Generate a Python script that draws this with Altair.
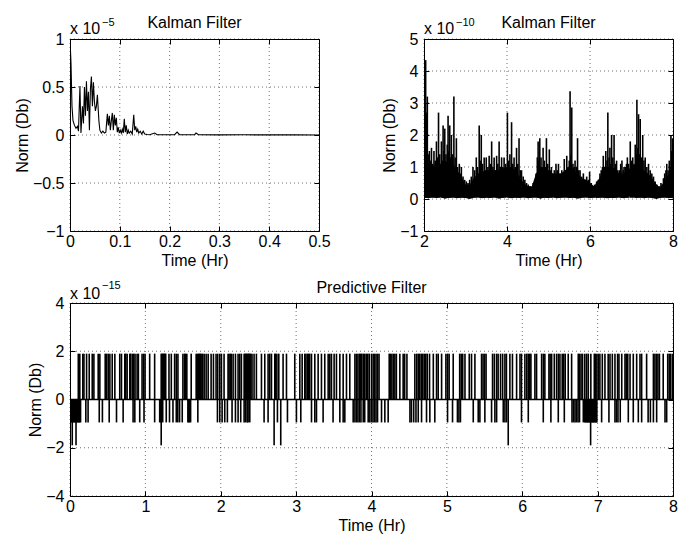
import altair as alt
import pandas as pd

FONT = "Liberation Sans"

# ---------------- data ----------------
# Kalman filter, first half hour (units of 1e-5)
kf1_t = [0.000, 0.002, 0.004, 0.006, 0.009, 0.012, 0.015, 0.017, 0.020, 0.022,
         0.025, 0.027, 0.029, 0.031, 0.033, 0.035, 0.037, 0.039, 0.041, 0.043,
         0.045, 0.047, 0.049, 0.051, 0.053, 0.055, 0.058, 0.060, 0.063, 0.066,
         0.069, 0.072, 0.075, 0.077, 0.079, 0.081, 0.083, 0.085, 0.087, 0.089,
         0.091, 0.093, 0.095, 0.097, 0.099, 0.101, 0.103, 0.105, 0.107, 0.109,
         0.111, 0.113, 0.115, 0.117, 0.119, 0.122, 0.125, 0.128, 0.130, 0.132,
         0.134, 0.136, 0.138, 0.141, 0.144, 0.147, 0.150, 0.155, 0.160, 0.170,
         0.175, 0.190, 0.210, 0.215, 0.220, 0.250, 0.253, 0.258, 0.300, 0.350,
         0.400, 0.450, 0.500]
kf1_v = [1.0, 0.75, 0.3, 0.15, 0.1, 0.07, 0.09, 0.04, 0.51, 0.02,
         0.30, 0.12, 0.50, 0.20, 0.56, 0.25, 0.45, 0.05, 0.48, 0.61,
         0.30, 0.55, 0.35, 0.25, 0.30, 0.42, 0.15, 0.05, 0.02, 0.04,
         0.02, 0.03, 0.22, 0.10, 0.20, 0.05, 0.15, 0.23, 0.05, 0.21,
         0.10, 0.18, 0.03, 0.08, 0.02, 0.05, 0.02, 0.06, 0.02, 0.17,
         0.03, 0.10, 0.01, 0.05, 0.02, 0.04, 0.01, 0.21, 0.05, 0.09,
         0.03, 0.06, 0.02, 0.04, 0.01, 0.04, 0.01, 0.005, 0.003, 0.02,
         0.002, 0.002, 0.003, 0.03, 0.003, 0.002, 0.02, 0.002, 0.001, 0.002,
         0.001, 0.001, 0.0]

# Kalman filter, 2-8 hr (units of 1e-10): spike peaks (time, value)
kf2_spikes = [
    (2.01, 2.8), (2.03, 2.9), (2.04, 4.34), (2.06, 2.7), (2.08, 3.2), (2.10, 1.4),
    (2.13, 1.5), (2.15, 1.2), (2.18, 1.6), (2.21, 1.1), (2.24, 1.5), (2.27, 1.2),
    (2.30, 1.8), (2.33, 1.3), (2.35, 2.7), (2.38, 1.4), (2.42, 1.8), (2.44, 1.2),
    (2.46, 2.3), (2.48, 1.5), (2.50, 2.2), (2.53, 1.4), (2.56, 1.7), (2.58, 2.6),
    (2.60, 1.5), (2.62, 2.3), (2.64, 1.3), (2.66, 2.0), (2.69, 1.4), (2.72, 3.2),
    (2.75, 1.3), (2.78, 1.9), (2.81, 1.0), (2.85, 1.1), (2.88, 0.8), (2.90, 1.0),
    (2.94, 0.7), (2.98, 0.6), (3.02, 0.55), (3.06, 0.5), (3.10, 0.6), (3.14, 0.7),
    (3.18, 1.0), (3.22, 0.9), (3.26, 1.3), (3.29, 1.0), (3.33, 2.3), (3.36, 1.2),
    (3.38, 2.0), (3.41, 1.1), (3.45, 1.3), (3.48, 0.9), (3.50, 1.3), (3.54, 1.0),
    (3.57, 1.35), (3.60, 1.1), (3.63, 1.8), (3.66, 1.0), (3.69, 1.3), (3.72, 0.9),
    (3.75, 1.35), (3.78, 1.1), (3.81, 1.8), (3.84, 1.0), (3.87, 1.3), (3.90, 1.0),
    (3.93, 1.3), (3.97, 1.1), (4.01, 2.7), (4.04, 1.2), (4.07, 1.4), (4.09, 1.0),
    (4.11, 2.4), (4.14, 1.1), (4.17, 1.3), (4.20, 1.0), (4.23, 1.6), (4.26, 1.1),
    (4.29, 1.9), (4.32, 0.9), (4.35, 0.9), (4.39, 0.7), (4.43, 0.6), (4.47, 0.5),
    (4.51, 0.45), (4.55, 0.4), (4.59, 0.35), (4.63, 0.5), (4.67, 0.6), (4.70, 0.8),
    (4.73, 1.3), (4.75, 1.8), (4.77, 1.2), (4.79, 1.9), (4.82, 1.3), (4.85, 1.0),
    (4.87, 1.6), (4.90, 1.2), (4.93, 1.0), (4.95, 1.9), (4.98, 1.1), (5.02, 1.55),
    (5.05, 0.9), (5.07, 1.0), (5.10, 0.8), (5.14, 0.9), (5.18, 1.1), (5.21, 0.9),
    (5.24, 1.1), (5.28, 0.8), (5.32, 0.9), (5.35, 0.8), (5.38, 1.25), (5.41, 0.9),
    (5.44, 1.35), (5.47, 1.0), (5.50, 1.2), (5.52, 3.37), (5.54, 1.4), (5.56, 2.86),
    (5.59, 1.1), (5.62, 1.0), (5.64, 1.2), (5.67, 1.0), (5.70, 1.9), (5.73, 0.9),
    (5.76, 0.9), (5.80, 0.7), (5.84, 0.8), (5.88, 0.6), (5.92, 0.7), (5.96, 0.6),
    (5.99, 0.85), (6.03, 0.5), (6.07, 0.35), (6.11, 0.45), (6.16, 0.55), (6.20, 0.6),
    (6.24, 0.8), (6.27, 0.9), (6.30, 1.0), (6.32, 1.35), (6.35, 1.0), (6.38, 1.5),
    (6.41, 1.2), (6.43, 2.7), (6.46, 1.3), (6.48, 1.6), (6.50, 1.1), (6.52, 2.0),
    (6.55, 1.3), (6.58, 2.0), (6.61, 1.1), (6.64, 1.2), (6.67, 0.9), (6.71, 0.9),
    (6.74, 1.1), (6.77, 1.2), (6.80, 0.9), (6.82, 1.0), (6.85, 1.0), (6.88, 1.1),
    (6.90, 1.3), (6.93, 1.1), (6.97, 1.8), (7.00, 1.2), (7.03, 1.3), (7.06, 1.1),
    (7.09, 1.7), (7.11, 1.4), (7.13, 3.1), (7.15, 1.6), (7.17, 2.65), (7.19, 1.4),
    (7.21, 2.5), (7.24, 1.3), (7.27, 2.0), (7.30, 1.2), (7.33, 1.3), (7.37, 1.0),
    (7.41, 1.1), (7.45, 0.9), (7.49, 0.8), (7.53, 0.7), (7.57, 0.55), (7.61, 0.45),
    (7.65, 0.25), (7.68, 0.4), (7.71, 0.5), (7.74, 0.45), (7.77, 0.65), (7.80, 0.8),
    (7.83, 0.9), (7.85, 1.1), (7.88, 0.9), (7.91, 1.2), (7.93, 1.0), (7.95, 2.0),
    (7.97, 1.5), (7.99, 1.9),
]
# dense oscillation band of the 2-8 hr Kalman trace
band_t = [2.0, 2.1, 2.2, 2.3, 2.4, 2.5, 2.6, 2.7, 2.8, 2.9,
          3.0, 3.1, 3.2, 3.3, 3.4, 3.5, 3.6, 3.7, 3.8, 3.9,
          4.0, 4.1, 4.2, 4.3, 4.4, 4.5, 4.6, 4.7, 4.8, 4.9,
          5.0, 5.1, 5.2, 5.3, 5.4, 5.5, 5.6, 5.7, 5.8, 5.9,
          6.0, 6.1, 6.2, 6.3, 6.4, 6.5, 6.6, 6.7, 6.8, 6.9,
          7.0, 7.1, 7.2, 7.3, 7.4, 7.5, 7.6, 7.7, 7.8, 7.9, 8.0]
band_hi = [1.5, 1.1, 1.0, 1.1, 1.1, 1.2, 1.1, 1.1, 0.9, 0.7,
           0.45, 0.45, 0.65, 0.8, 0.85, 0.9, 0.9, 0.9, 0.9, 0.95,
           1.0, 1.0, 0.9, 0.7, 0.5, 0.4, 0.4, 0.8, 1.0, 1.0,
           0.9, 0.8, 0.8, 0.8, 0.9, 1.0, 0.95, 0.8, 0.65, 0.6,
           0.5, 0.4, 0.6, 0.8, 1.0, 1.0, 0.95, 0.8, 0.8, 0.9,
           1.0, 1.1, 1.1, 0.9, 0.8, 0.65, 0.45, 0.35, 0.6, 0.8, 0.9]
band_lo = [0.05, 0.02, 0.06, 0.03, 0.07, 0.01, 0.04, 0.06, 0.02, 0.05,
           0.03, 0.00, 0.04, 0.06, 0.02, 0.05, 0.03, 0.07, 0.01, 0.04,
           0.06, 0.02, 0.05, 0.03, 0.06, 0.02, 0.04, 0.07, 0.01, 0.05,
           0.03, 0.06, 0.02, 0.04, 0.07, 0.03, 0.05, 0.01, 0.04, 0.06,
           0.02, 0.05, 0.03, 0.06, 0.02, 0.04, 0.03, 0.06, 0.02, 0.05,
           0.12, 0.04, 0.06, 0.02, 0.05, 0.03, 0.00, 0.04, 0.06, 0.03, 0.05]

# Predictive filter (units of 1e-15): times of excursions to each level
pf_up = [0.11, 0.13, 0.17, 0.185, 0.22, 0.255, 0.295, 0.317, 0.374, 0.396, 0.467, 0.485,
         0.507, 0.529, 0.56, 0.595, 0.66, 0.683, 0.727, 0.74, 0.758, 0.793, 0.806, 0.828,
         0.846, 0.863, 0.89, 0.907, 0.956, 0.978, 0.996, 1.057, 1.123, 1.21, 1.22, 1.23,
         1.24, 1.25, 1.26, 1.27, 1.313, 1.344, 1.388, 1.41, 1.432, 1.498, 1.52, 1.533,
         1.55, 1.608, 1.674, 1.687, 1.70, 1.71, 1.72, 1.73, 1.74, 1.76, 1.78, 1.806,
         1.833, 1.872, 1.903, 1.938, 1.96, 1.987, 2.009, 2.044, 2.097, 2.11, 2.125, 2.14,
         2.164, 2.195, 2.23, 2.252, 2.274, 2.31, 2.32, 2.33, 2.34, 2.35, 2.36, 2.37,
         2.38, 2.39, 2.40, 2.415, 2.442, 2.473, 2.54, 2.584, 2.628, 2.65, 2.673, 2.717,
         2.73, 2.745, 2.77, 2.827, 2.872, 2.982, 3.049, 3.08, 3.115, 3.13, 3.15, 3.165,
         3.18, 3.204, 3.248, 3.292, 3.336, 3.38, 3.425, 3.447, 3.469, 3.504, 3.535, 3.58,
         3.624, 3.668, 3.712, 3.78, 3.80, 3.82, 3.84, 3.855, 3.87, 3.89, 3.91, 3.93,
         3.95, 3.97, 4.0, 4.022, 4.04, 4.06, 4.08, 4.1, 4.235, 4.25, 4.27, 4.29,
         4.31, 4.33, 4.376, 4.42, 4.44, 4.47, 4.575, 4.6, 4.62, 4.64, 4.66, 4.68,
         4.70, 4.72, 4.74, 4.77, 4.82, 4.863, 4.885, 4.93, 4.987, 5.01, 5.03, 5.084,
         5.17, 5.19, 5.21, 5.24, 5.297, 5.327, 5.372, 5.46, 5.48, 5.5, 5.52, 5.606,
         5.63, 5.66, 5.68, 5.712, 5.74, 5.77, 5.79, 5.836, 5.87, 5.925, 5.97, 5.99,
         6.035, 6.06, 6.08, 6.1, 6.115, 6.168, 6.19, 6.257, 6.28, 6.30, 6.354, 6.37,
         6.39, 6.425, 6.456, 6.48, 6.5, 6.53, 6.55, 6.57, 6.61, 6.655, 6.743, 6.76,
         6.78, 6.80, 6.83, 6.854, 6.876, 6.91, 6.956, 6.97, 6.99, 7.01, 7.03, 7.062,
         7.097, 7.14, 7.164, 7.195, 7.23, 7.265, 7.283, 7.32, 7.363, 7.38, 7.40, 7.43,
         7.473, 7.518, 7.562, 7.584, 7.65, 7.74, 7.76, 7.78, 7.80, 7.82, 7.87, 7.93,
         7.95, 7.97, 7.995]
pf_dn = [0.0, 0.01, 0.02, 0.03, 0.04, 0.05, 0.06, 0.07, 0.08, 0.09, 0.10, 0.11,
         0.12, 0.13, 0.14, 0.21, 0.24, 0.388, 0.43, 0.52, 0.617, 0.705, 0.837, 0.86,
         0.925, 0.982, 1.123, 1.19, 1.20, 1.21, 1.23, 1.277, 1.32, 1.366, 1.41, 1.43,
         1.454, 1.489, 1.564, 1.575, 1.586, 1.60, 1.696, 1.956, 1.987, 2.018, 2.053, 2.088,
         2.15, 2.195, 2.23, 2.265, 2.31, 2.33, 2.35, 2.363, 2.385, 2.575, 2.628, 2.752,
         2.885, 3.004, 3.062, 3.204, 3.248, 3.27, 3.358, 3.49, 3.58, 3.624, 3.646, 3.757,
         3.78, 3.80, 3.82, 3.84, 3.86, 3.89, 3.91, 3.956, 3.978, 4.0, 4.02, 4.04,
         4.06, 4.08, 4.133, 4.177, 4.221, 4.51, 4.53, 4.56, 4.59, 4.62, 4.664, 4.73,
         4.774, 4.84, 5.009, 5.075, 5.14, 5.16, 5.18, 5.35, 5.416, 5.438, 5.504, 5.593,
         5.637, 5.66, 5.748, 5.77, 5.792, 5.99, 6.08, 6.279, 6.38, 6.478, 6.558, 6.66,
         6.68, 6.70, 6.72, 6.74, 6.76, 6.81, 6.83, 6.84, 6.85, 6.86, 6.87, 6.88,
         6.89, 6.90, 6.91, 6.92, 6.93, 6.94, 6.95, 6.96, 6.97, 6.98, 6.99, 7.053,
         7.15, 7.23, 7.25, 7.27, 7.30, 7.407, 7.473, 7.54, 7.584, 7.67, 7.70, 7.74,
         7.783, 7.894, 7.916]
pf_deep = [0.03, 0.08, 1.21, 2.708, 2.796, 5.814, 6.907]
PF_UP, PF_DN, PF_DEEP = 1.9, -0.95, -1.9

# axis ticks
x1_ticks = [0, 0.1, 0.2, 0.3, 0.4, 0.5]
y1_ticks = [-1, -0.5, 0, 0.5, 1]
x2_ticks = [2, 4, 6, 8]
y2_ticks = [-1, 0, 1, 2, 3, 4, 5]
x3_ticks = [0, 1, 2, 3, 4, 5, 6, 7, 8]
y3_ticks = [-4, -2, 0, 2, 4]

W1, H1 = 249, 192
W3, H3 = 603, 193


def frame(xdom, ydom, xticks, yticks):
    sx = alt.Scale(domain=xdom, nice=False, zero=False)
    sy = alt.Scale(domain=ydom, nice=False, zero=False)
    dom = pd.DataFrame({"t": xdom, "v": ydom})
    common = dict(domain=False, grid=False, ticks=True, tickSize=5, offset=-5,
                  tickColor="black", labelFlush=False, labelOverlap=False)
    main = alt.Chart(dom).mark_point(opacity=0).encode(
        x=alt.X("t:Q", scale=sx, axis=alt.Axis(orient="bottom", values=xticks, format="~g",
                                               title="Time (Hr)", labelPadding=2,
                                               titlePadding=3, **common)),
        y=alt.Y("v:Q", scale=sy, axis=alt.Axis(orient="left", values=yticks, format="~g",
                                               title="Norm (Db)", labelPadding=6,
                                               titlePadding=2, **common)),
    )
    opp = alt.Chart(dom).mark_point(opacity=0).encode(
        x=alt.X("t:Q", scale=sx, axis=alt.Axis(orient="top", values=xticks, labels=False,
                                               title=None, **common)),
        y=alt.Y("v:Q", scale=sy, axis=alt.Axis(orient="right", values=yticks, labels=False,
                                               title=None, **common)),
    )
    gx = alt.Chart(pd.DataFrame({"g": xticks})).mark_rule(
        color="black", strokeDash=[1, 3], strokeWidth=1, opacity=0.55
    ).encode(x=alt.X("g:Q", scale=sx, axis=None))
    gy = alt.Chart(pd.DataFrame({"g": yticks})).mark_rule(
        color="black", strokeDash=[1, 3], strokeWidth=1, opacity=0.55
    ).encode(y=alt.Y("g:Q", scale=sy, axis=None))
    return sx, sy, [gx, gy], [main, opp]


def texts(title, expo, w, ty, by, sy):
    df = pd.DataFrame({"a": [title], "b": ["x 10"], "c": [expo]})
    base = alt.Chart(df)
    return [
        base.mark_text(font=FONT, fontSize=16, align="center", baseline="alphabetic",
                       color="black").encode(x=alt.value(w / 2), y=alt.value(ty), text="a:N"),
        base.mark_text(font=FONT, fontSize=16, align="left", baseline="alphabetic",
                       color="black").encode(x=alt.value(0), y=alt.value(by), text="b:N"),
        base.mark_text(font=FONT, fontSize=11, align="left", baseline="alphabetic",
                       color="black").encode(x=alt.value(32), y=alt.value(sy), text="c:N"),
    ]


# ---- panel 1 ----
sx, sy, grid, axes = frame([0, 0.5], [-1, 1], x1_ticks, y1_ticks)
kf1 = pd.DataFrame({"t": kf1_t, "v": kf1_v})
line1 = alt.Chart(kf1).mark_line(color="black", strokeWidth=1.1, clip=True).encode(
    x=alt.X("t:Q", scale=sx, axis=None), y=alt.Y("v:Q", scale=sy, axis=None))
p1 = alt.layer(*grid, line1, *axes, *texts("Kalman Filter", "\u22125", W1, -11, -5.5, -13)
               ).resolve_axis(x="independent", y="independent").properties(width=W1, height=H1)

# ---- panel 2 ----
sx, sy, grid, axes = frame([2, 8], [-1, 5], x2_ticks, y2_ticks)
band = pd.DataFrame({"t": band_t, "lo": band_lo, "hi": band_hi})
spk = pd.DataFrame({"t": [s[0] for s in kf2_spikes], "v": [s[1] for s in kf2_spikes]})
area2 = alt.Chart(band).mark_area(color="black", clip=True).encode(
    x=alt.X("t:Q", scale=sx, axis=None), y=alt.Y("lo:Q", scale=sy, axis=None), y2="hi:Q")
rule2 = alt.Chart(spk).mark_rule(color="black", strokeWidth=1.6, clip=True).encode(
    x=alt.X("t:Q", scale=sx, axis=None), y=alt.Y("v:Q", scale=sy, axis=None),
    y2=alt.datum(0.04))
p2 = alt.layer(*grid, area2, rule2, *axes, *texts("Kalman Filter", "\u221210", W1, -11, -5.5, -13)
               ).resolve_axis(x="independent", y="independent").properties(width=W1, height=H1)

# ---- panel 3 ----
sx, sy, grid, axes = frame([0, 8], [-4, 4], x3_ticks, y3_ticks)
pf = pd.DataFrame({
    "t": pf_up + pf_dn + pf_deep,
    "v": [PF_UP] * len(pf_up) + [PF_DN] * len(pf_dn) + [PF_DEEP] * len(pf_deep),
})
rule3 = alt.Chart(pf).mark_rule(color="black", strokeWidth=1.6, clip=True).encode(
    x=alt.X("t:Q", scale=sx, axis=None), y=alt.Y("v:Q", scale=sy, axis=None),
    y2=alt.datum(0))
zero3 = alt.Chart(pd.DataFrame({"z": [0]})).mark_rule(color="black", strokeWidth=1.5).encode(
    y=alt.Y("z:Q", scale=sy, axis=None))
p3 = alt.layer(*grid, rule3, zero3, *axes, *texts("Predictive Filter", "\u221215", W3, -10.5, -4, -14.5)
               ).resolve_axis(x="independent", y="independent").properties(width=W3, height=H3)

top = alt.hconcat(p1, p2, spacing=105, bounds="flush")
chart = alt.vconcat(top, p3, spacing=10).properties(
    padding={"left": 5, "top": 6, "right": 5, "bottom": 5}, background="white"
).configure_view(stroke="black", strokeWidth=1).configure_axis(
    labelFont=FONT, labelFontSize=16, labelColor="black",
    titleFont=FONT, titleFontSize=16, titleFontWeight="normal", titleColor="black",
)

chart.save("out.html", embed_options={"renderer": "svg", "actions": False})
